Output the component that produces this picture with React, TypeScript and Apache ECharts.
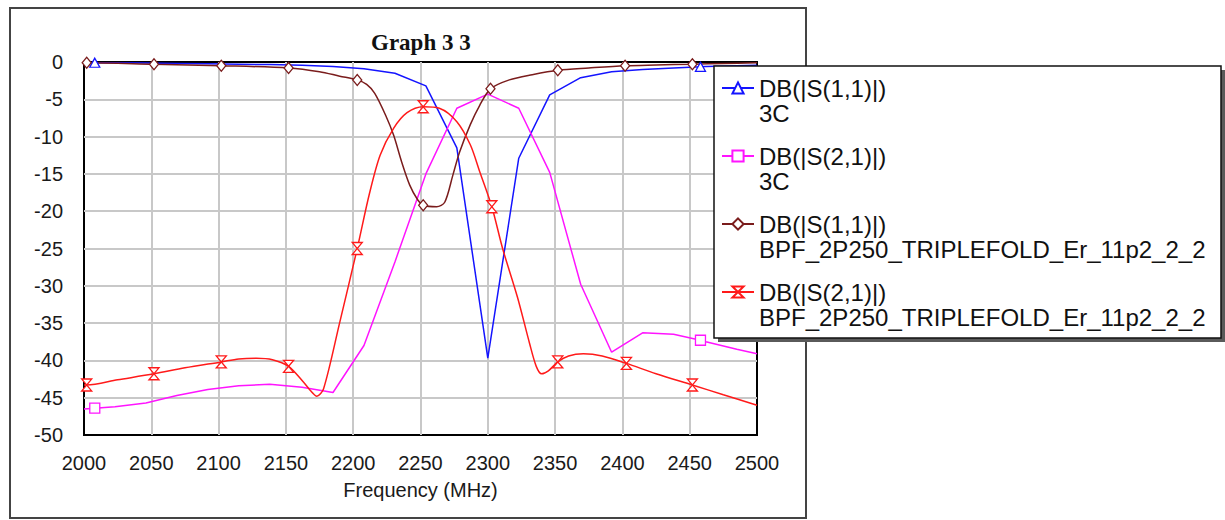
import React, { useEffect, useRef } from 'react';
import * as echarts from 'echarts';

// ---- Data ----
// 3C sweep (piecewise linear, ~23 MHz step)
const S11_3C_FREQ = [2000, 2008, 2023, 2046, 2069, 2092, 2115, 2138, 2162, 2185, 2208, 2231, 2254, 2277, 2300, 2323, 2346, 2369, 2392, 2415, 2438, 2458, 2462, 2485, 2500];
const S11_3C_DB = [-0.05, -0.1, -0.1, -0.15, -0.2, -0.25, -0.3, -0.35, -0.45, -0.6, -0.9, -1.5, -3.2, -11.5, -39.7, -12.9, -4.4, -2.1, -1.3, -1.0, -0.8, -0.65, -0.6, -0.5, -0.45];

const S21_3C_FREQ = [2000, 2008, 2023, 2046, 2069, 2092, 2115, 2138, 2162, 2185, 2208, 2231, 2254, 2277, 2300, 2323, 2346, 2369, 2392, 2415, 2438, 2458, 2462, 2485, 2500];
const S21_3C_DB = [-46.5, -46.4, -46.2, -45.7, -44.7, -43.9, -43.4, -43.2, -43.6, -44.3, -38.0, -26.8, -15.0, -6.2, -4.3, -6.2, -14.8, -29.8, -38.9, -36.3, -36.5, -37.3, -37.5, -38.5, -39.1];

// BPF_2P250_TRIPLEFOLD_Er_11p2_2_2
const S11_BPF_FREQ = [2000, 2002, 2052, 2102, 2152, 2175, 2190, 2203, 2210, 2216, 2224, 2230, 2236, 2242, 2248, 2252, 2262, 2268, 2274, 2279, 2287, 2294, 2302, 2316, 2333, 2352, 2375, 2402, 2425, 2452, 2475, 2500];
const S11_BPF_DB = [-0.1, -0.1, -0.3, -0.5, -0.8, -1.3, -1.9, -2.4, -3.0, -4.2, -7.1, -9.8, -13.4, -16.5, -18.5, -19.2, -19.4, -18.8, -15.2, -12.1, -8.4, -5.8, -3.6, -2.4, -1.7, -1.1, -0.8, -0.5, -0.4, -0.3, -0.2, -0.1];

const S21_BPF_FREQ = [2000, 2002, 2025, 2052, 2075, 2102, 2115, 2128, 2140, 2152, 2163, 2168, 2173, 2178, 2190, 2203, 2212, 2220, 2230, 2240, 2252, 2264, 2277, 2287, 2294, 2303, 2311, 2322, 2331, 2336, 2340, 2345, 2352, 2360, 2371, 2385, 2403, 2425, 2452, 2475, 2500];
const S21_BPF_DB = [-43.3, -43.3, -42.6, -41.8, -41.0, -40.2, -39.8, -39.7, -39.9, -40.8, -42.9, -44.0, -44.8, -43.8, -34.9, -25.0, -17.7, -12.5, -8.9, -6.8, -6.0, -6.2, -8.0, -11.1, -14.7, -19.4, -25.0, -31.5, -37.7, -40.8, -41.8, -41.4, -40.2, -39.4, -39.1, -39.4, -40.4, -41.8, -43.3, -44.6, -46.0];

// Marker positions (MHz)
const MARKERS_3C = [2008, 2458];
const MARKERS_S11_BPF = [2002, 2052, 2102, 2152, 2203, 2252, 2302, 2352, 2402, 2452];
const MARKERS_S21_BPF = [2002, 2052, 2102, 2152, 2203, 2252, 2303, 2352, 2403, 2452];

const SERIES_NAMES = [
  'DB(|S(1,1)|)\n3C',
  'DB(|S(2,1)|)\n3C',
  'DB(|S(1,1)|)\nBPF_2P250_TRIPLEFOLD_Er_11p2_2_2',
  'DB(|S(2,1)|)\nBPF_2P250_TRIPLEFOLD_Er_11p2_2_2',
];

const TITLE = 'Graph 3 3';
const X_NAME = 'Frequency (MHz)';

const BLUE = '#1414ff';
const MAGENTA = '#ff14ff';
const BROWN = '#7a1c1c';
const RED = '#ff1a1a';
const HOURGLASS = 'path://M0,0L10,0L0,12L10,12Z';

const SANS = '"Liberation Sans", Arial, sans-serif';

function buildData(freq: number[], db: number[], markers: number[], shape: string, size: number[]) {
  return freq.map((f, i) =>
    markers.includes(f)
      ? { value: [f, db[i]], symbol: shape, symbolSize: size }
      : { value: [f, db[i]], symbol: 'none' }
  );
}

function lineSeries(name: string, color: string, data: any[], shape: string, size: number[], smooth: number | boolean) {
  return {
    type: 'line',
    name,
    data,
    symbol: shape,
    symbolSize: size,
    showSymbol: true,
    smooth,
    color,
    lineStyle: { color, width: 1.5 },
    itemStyle: { color: '#ffffff', borderColor: color, borderWidth: 1.3 },
    emphasis: { disabled: true },
    z: 2,
  };
}

export default function App() {
  const ref = useRef<HTMLDivElement>(null);

  useEffect(() => {
    if (!ref.current) return;
    const chart = echarts.init(ref.current, undefined, { renderer: 'svg' });
    chart.setOption({
      animation: false,
      backgroundColor: '#ffffff',
      title: {
        text: TITLE,
        left: 371,
        top: 31,
        padding: 0,
        textStyle: { fontFamily: '"Liberation Serif", "Times New Roman", serif', fontWeight: 'bold', fontSize: 23, color: '#111' },
      },
      grid: {
        left: 84,
        top: 62,
        width: 673,
        height: 373,
        show: true,
        borderColor: '#000',
        borderWidth: 2,
        backgroundColor: 'transparent',
        containLabel: false,
      },
      xAxis: {
        type: 'value',
        min: 2000,
        max: 2500,
        interval: 50,
        name: X_NAME,
        nameLocation: 'middle',
        nameGap: 45,
        nameTextStyle: { fontFamily: SANS, fontSize: 20, color: '#1a1a1a' },
        axisLine: { show: false },
        axisTick: { show: false },
        axisLabel: { margin: 18, fontFamily: SANS, fontSize: 20, color: '#1a1a1a', formatter: (v: number) => String(v) },
        splitLine: { show: true, showMinLine: false, showMaxLine: false, lineStyle: { color: '#c8c8c8', width: 2 } },
      },
      yAxis: {
        type: 'value',
        min: -50,
        max: 0,
        interval: 5,
        axisLine: { show: false },
        axisTick: { show: false },
        axisLabel: { margin: 21, fontFamily: SANS, fontSize: 20, color: '#1a1a1a', formatter: (v: number) => String(v) },
        splitLine: { show: true, showMinLine: false, showMaxLine: false, lineStyle: { color: '#c8c8c8', width: 2 } },
      },
      legend: {
        orient: 'vertical',
        left: 721,
        top: 50.5,
        padding: 0,
        itemWidth: 32,
        itemHeight: 14,
        itemGap: -7,
        selectedMode: false,
        data: SERIES_NAMES,
        formatter: (name: string) => '\n' + name,
        textStyle: { fontFamily: SANS, fontSize: 24, lineHeight: 25, color: '#111' },
        z: 5,
      },
      graphic: [
        { type: 'rect', silent: true, z: 0, shape: { x: 10, y: 8, width: 796, height: 510 }, style: { fill: 'none', stroke: '#444', lineWidth: 2 } },
        { type: 'rect', silent: true, z: 3, shape: { x: 718, y: 70, width: 507, height: 272 }, style: { fill: '#5a5a5a' } },
        { type: 'rect', silent: true, z: 3, shape: { x: 714, y: 66, width: 507, height: 272 }, style: { fill: '#ffffff', stroke: '#111', lineWidth: 1.5 } },
      ],
      series: [
        lineSeries(SERIES_NAMES[0], BLUE, buildData(S11_3C_FREQ, S11_3C_DB, MARKERS_3C, 'triangle', [10, 9]), 'triangle', [10, 9], false),
        lineSeries(SERIES_NAMES[1], MAGENTA, buildData(S21_3C_FREQ, S21_3C_DB, MARKERS_3C, 'rect', [10, 10]), 'rect', [10, 10], false),
        lineSeries(SERIES_NAMES[2], BROWN, buildData(S11_BPF_FREQ, S11_BPF_DB, MARKERS_S11_BPF, 'diamond', [9, 11]), 'diamond', [9, 11], 0.3),
        lineSeries(SERIES_NAMES[3], RED, buildData(S21_BPF_FREQ, S21_BPF_DB, MARKERS_S21_BPF, HOURGLASS, [10, 12]), HOURGLASS, [10, 12], 0.3),
      ],
    });
    return () => chart.dispose();
  }, []);

  return <div ref={ref} style={{ position: 'absolute', left: 0, top: 0, width: 1225, height: 520 }} />;
}
